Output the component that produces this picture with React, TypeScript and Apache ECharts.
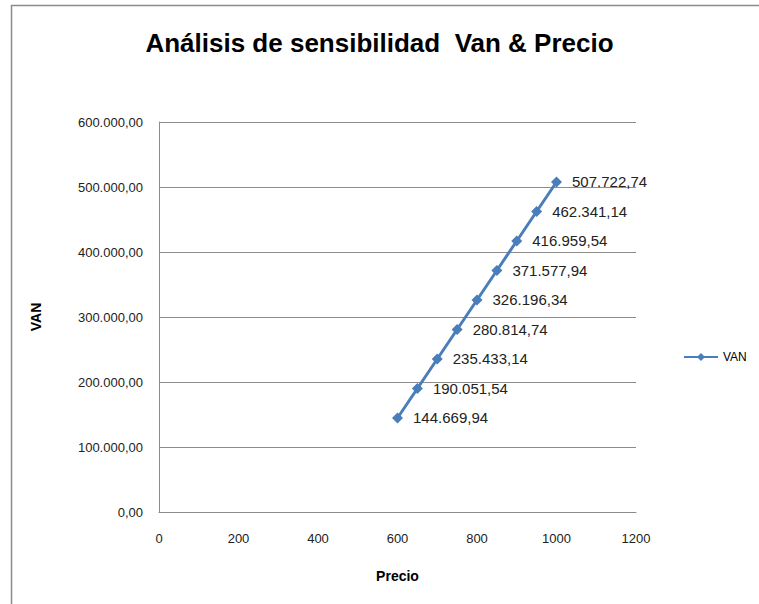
import React, { useEffect, useRef } from "react";
import * as echarts from "echarts";

const precios = [600, 650, 700, 750, 800, 850, 900, 950, 1000];
const van = [144669.94, 190051.54, 235433.14, 280814.74, 326196.34, 371577.94, 416959.54, 462341.14, 507722.74];
const titleText = "Análisis de sensibilidad  Van & Precio";
const seriesName = "VAN";
const xName = "Precio";
const yName = "VAN";

function fmt(v: number): string {
  const fixed = Math.abs(v).toFixed(2);
  const [ip, dp] = fixed.split(".");
  const withDots = ip.replace(/\B(?=(\d{3})+(?!\d))/g, ".");
  return (v < 0 ? "-" : "") + withDots + "," + dp;
}

export default function App() {
  const ref = useRef<HTMLDivElement>(null);
  useEffect(() => {
    if (!ref.current) return;
    const chart = echarts.init(ref.current, null, { renderer: "svg" });
    const font = "'Liberation Sans', Arial, sans-serif";
    chart.setOption({
      animation: false,
      backgroundColor: "#ffffff",
      textStyle: { fontFamily: font },
      title: {
        text: titleText,
        left: "center",
        top: 25,
        textStyle: { fontFamily: font, fontSize: 26, fontWeight: "bold", color: "#000" },
      },
      graphic: [
        {
          type: "rect",
          shape: { x: 11.5, y: 5.5, width: 760, height: 620 },
          style: { fill: "none", stroke: "#8c8c8c", lineWidth: 1.5 },
          silent: true,
        },
      ],
      legend: {
        left: 678,
        top: 346,
        itemWidth: 34,
        itemHeight: 10,
        itemGap: 4,
        textStyle: { fontFamily: font, fontSize: 12, color: "#000" },
        data: [seriesName],
      },
      grid: { left: 159, right: 123, top: 122, bottom: 92 },
      xAxis: {
        type: "value",
        min: 0,
        max: 1200,
        interval: 200,
        name: xName,
        nameLocation: "middle",
        nameGap: 57,
        nameTextStyle: { fontFamily: font, fontSize: 14, fontWeight: "bold", color: "#000" },
        axisLine: { show: true, lineStyle: { color: "#8c8c8c", width: 1 } },
        axisTick: { show: false },
        splitLine: { show: false },
        axisLabel: { fontFamily: font, fontSize: 13, color: "#222", margin: 20, formatter: (v: number) => String(v) },
      },
      yAxis: {
        type: "value",
        min: 0,
        max: 600000,
        interval: 100000,
        name: yName,
        nameLocation: "middle",
        nameGap: 116,
        nameTextStyle: { fontFamily: font, fontSize: 14, fontWeight: "bold", color: "#000" },
        axisLine: { show: true, lineStyle: { color: "#8c8c8c", width: 1 } },
        axisTick: { show: false },
        splitLine: { show: true, lineStyle: { color: "#8c8c8c", width: 1 } },
        axisLabel: { fontFamily: font, fontSize: 13, color: "#222", margin: 16, formatter: (v: number) => fmt(v) },
      },
      series: [
        {
          name: seriesName,
          type: "line",
          data: precios.map((p, i) => [p, van[i]]),
          symbol: "diamond",
          symbolSize: 11,
          lineStyle: { color: "#4a7ebb", width: 3 },
          itemStyle: { color: "#4a7ebb" },
          label: {
            show: true,
            position: "right",
            distance: 10,
            fontFamily: font,
            fontSize: 15,
            color: "#222",
            formatter: (p: any) => fmt(p.value[1]),
          },
        },
      ],
    });
    return () => chart.dispose();
  }, []);
  return <div ref={ref} style={{ position: "fixed", left: 0, top: 0, width: 759, height: 604 }} />;
}
